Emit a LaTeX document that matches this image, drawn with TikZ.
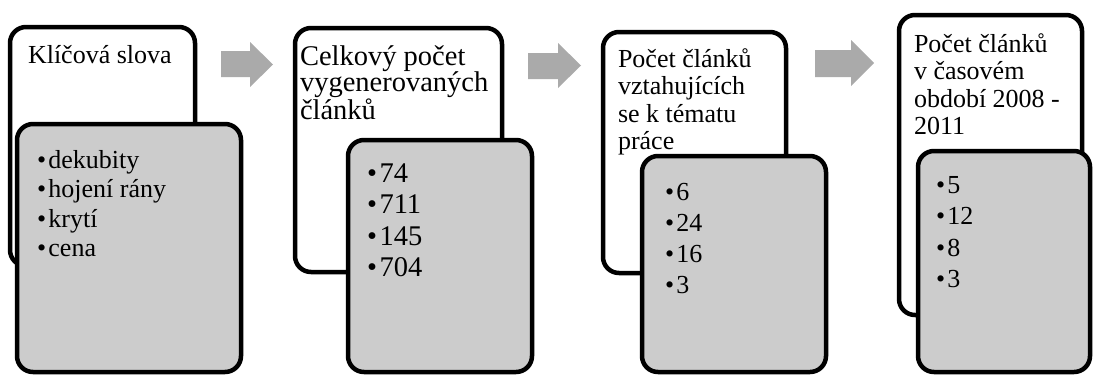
\documentclass[tikz,border=0pt]{standalone}
\usepackage{fontspec}
\setmainfont{Liberation Serif}
\definecolor{boxgray}{RGB}{204,204,204}
\definecolor{arrowgray}{RGB}{170,170,170}
\newcommand\hdrtext[3]{\parbox[t]{220pt}{\raggedright\fontsize{#1}{#2}\selectfont #3}}
\newcommand\blttext[3]{\parbox[t]{200pt}{\raggedright\fontsize{#1}{#2}\selectfont #3}}
\newcommand\bi{\makebox[0.44em][l]{\textbullet}}
\tikzset{
  card/.style={draw=black, line width=4.5pt, rounded corners=16pt, outer sep=0pt, inner sep=0pt, anchor=north west},
  whitecard/.style={card, fill=white},
  graycard/.style={card, fill=boxgray},
  txt/.style={anchor=base west, inner sep=0pt, outer sep=0pt},
  blockarrow/.style={fill=arrowgray, draw=none}
}
\begin{document}
\begin{tikzpicture}[x=1pt,y=-1pt]
\useasboundingbox (0,0) rectangle (1094,376);
% column 1
\node[whitecard, minimum width=185pt, minimum height=239pt] (w1) at (10,27) {};
\node[graycard, minimum width=224pt, minimum height=248pt] (g1) at (17,124) {};
\node[txt] (h1) at (28,63) {\hdrtext{26}{27.5}{Klíčová slova}};
\node[txt] (b1) at (37,168) {\blttext{26}{29.5}{\bi dekubity\\\bi hojení rány\\\bi krytí\\\bi cena}};
% column 2
\node[whitecard, minimum width=207pt, minimum height=244pt] (w2) at (295,28) {};
\node[graycard, minimum width=184pt, minimum height=232pt] (g2) at (348,140) {};
\node[txt] (h2) at (300,65) {\hdrtext{28.5}{25.5}{Celkový počet\\vygenerovaných\\článků}};
\node[txt] (b2) at (367,182) {\blttext{28.5}{31.6}{\bi 74\\\bi 711\\\bi 145\\\bi 704}};
% column 3
\node[whitecard, minimum width=183pt, minimum height=241pt] (w3) at (603,32) {};
\node[graycard, minimum width=184pt, minimum height=216pt] (g3) at (642,156) {};
\node[txt] (h3) at (618,67) {\hdrtext{26}{27.5}{Počet článků\\vztahujících\\se k tématu\\práce}};
\node[txt] (b3) at (665,200) {\blttext{26}{31}{\bi 6\\\bi 24\\\bi 16\\\bi 3}};
% column 4
\node[whitecard, minimum width=183pt, minimum height=300pt] (w4) at (899,15) {};
\node[graycard, minimum width=172pt, minimum height=221pt] (g4) at (918,151) {};
\node[txt] (h4) at (914,52) {\hdrtext{26}{27.6}{Počet článků\\v časovém\\období 2008 -\\2011}};
\node[txt] (b4) at (936,193) {\blttext{26}{31.5}{\bi 5\\\bi 12\\\bi 8\\\bi 3}};
% arrows
\fill[blockarrow] (221,51) -- (250,51) -- (250,42) -- (273,64.5) -- (250,87) -- (250,77) -- (221,77) -- cycle;
\fill[blockarrow] (528,53) -- (558,53) -- (558,43) -- (581,65.5) -- (558,88) -- (558,79) -- (528,79) -- cycle;
\fill[blockarrow] (815,50) -- (851,50) -- (851,40) -- (874,63) -- (851,86) -- (851,77) -- (815,77) -- cycle;
\end{tikzpicture}
\end{document}
